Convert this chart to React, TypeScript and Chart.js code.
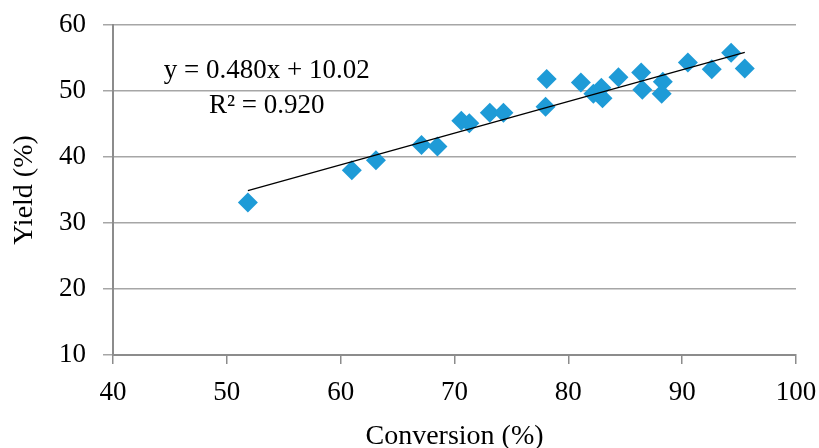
import React, { useEffect, useRef } from "react";
import { Chart, registerables } from "chart.js";

Chart.register(...registerables);

const conversion = [51.85, 60.98, 63.1, 67.1, 68.5, 70.6, 71.3, 73.1, 74.3, 78.1, 78.0, 81.1, 82.2, 82.9, 83.0, 84.4, 86.4, 86.5, 88.3, 88.2, 90.5, 92.6, 94.3, 95.5];
const yieldPct = [33.1, 38.0, 39.5, 41.8, 41.6, 45.5, 45.1, 46.7, 46.7, 51.8, 47.6, 51.3, 49.6, 50.5, 48.9, 52.1, 52.8, 50.2, 51.4, 49.6, 54.3, 53.3, 55.8, 53.4];
const trendX = [51.85, 95.5];
const trendY = [34.9, 55.86];
const equationLines = ["y = 0.480x + 10.02", "R² = 0.920"];
const xTitle = "Conversion (%)";
const yTitle = "Yield (%)";

const FONT = "'Liberation Serif', 'Times New Roman', serif";

const annotationPlugin = {
  id: "eqAnnotation",
  afterDatasetsDraw(chart: any) {
    const ctx = chart.ctx;
    const xs = chart.scales.x;
    const ys = chart.scales.y;
    ctx.save();
    ctx.font = `27px ${FONT}`;
    ctx.fillStyle = "#000";
    ctx.textAlign = "center";
    ctx.textBaseline = "alphabetic";
    const cx = xs.getPixelForValue(53.5);
    ctx.fillText(equationLines[0], cx, ys.getPixelForValue(52.0));
    ctx.fillText(equationLines[1], cx, ys.getPixelForValue(46.6));
    ctx.restore();
  },
};

export default function App() {
  const ref = useRef<HTMLCanvasElement | null>(null);
  useEffect(() => {
    if (!ref.current) return;
    const chart = new Chart(ref.current, {
      type: "scatter",
      data: {
        datasets: [
          {
            label: "data",
            data: conversion.map((x, i) => ({ x, y: yieldPct[i] })),
            pointStyle: "rectRot",
            pointRadius: 10,
            pointHoverRadius: 10,
            backgroundColor: "#1E9BD7",
            borderWidth: 0,
            order: 2,
          },
          {
            type: "line",
            label: "trend",
            data: trendX.map((x, i) => ({ x, y: trendY[i] })),
            borderColor: "#000",
            borderWidth: 1.3,
            pointRadius: 0,
            fill: false,
            order: 1,
          } as any,
        ],
      },
      options: {
        animation: false,
        responsive: false,
        maintainAspectRatio: false,
        layout: { padding: { top: 25, right: 23, left: 0, bottom: 0 } },
        plugins: { legend: { display: false }, tooltip: { enabled: false } },
        scales: {
          x: {
            type: "linear",
            min: 40,
            max: 100,
            ticks: { stepSize: 10, color: "#000", font: { family: FONT, size: 27 }, padding: 13 },
            grid: { drawOnChartArea: false, drawTicks: true, tickLength: 9, color: "#8c8c8c", lineWidth: 1.5 },
            border: { display: true, color: "#8c8c8c", width: 2 },
            title: { display: true, text: xTitle, color: "#000", font: { family: FONT, size: 28 }, padding: { top: 0, bottom: -5 } },
            afterFit(scale: any) {
              scale.height = 93;
              scale.paddingLeft = 0;
              scale.paddingRight = 0;
            },
          },
          y: {
            type: "linear",
            min: 10,
            max: 60,
            ticks: { stepSize: 10, color: "#000", font: { family: FONT, size: 27 }, padding: 17 },
            grid: { drawTicks: true, tickLength: 10, color: "#a6a6a6", lineWidth: 1.5 },
            border: { display: true, color: "#8c8c8c", width: 2 },
            title: { display: true, text: yTitle, color: "#000", font: { family: FONT, size: 28 }, padding: { top: 8, bottom: 0 } },
            afterFit(scale: any) {
              scale.width = 113;
              scale.paddingTop = 0;
              scale.paddingBottom = 0;
            },
          },
        },
      },
      plugins: [annotationPlugin],
    });
    return () => chart.destroy();
  }, []);
  return (
    <div style={{ position: "fixed", left: 0, top: 0, width: 819, height: 448, background: "#fff" }}>
      <canvas ref={ref} width={819} height={448} style={{ width: 819, height: 448, display: "block" }} />
    </div>
  );
}
